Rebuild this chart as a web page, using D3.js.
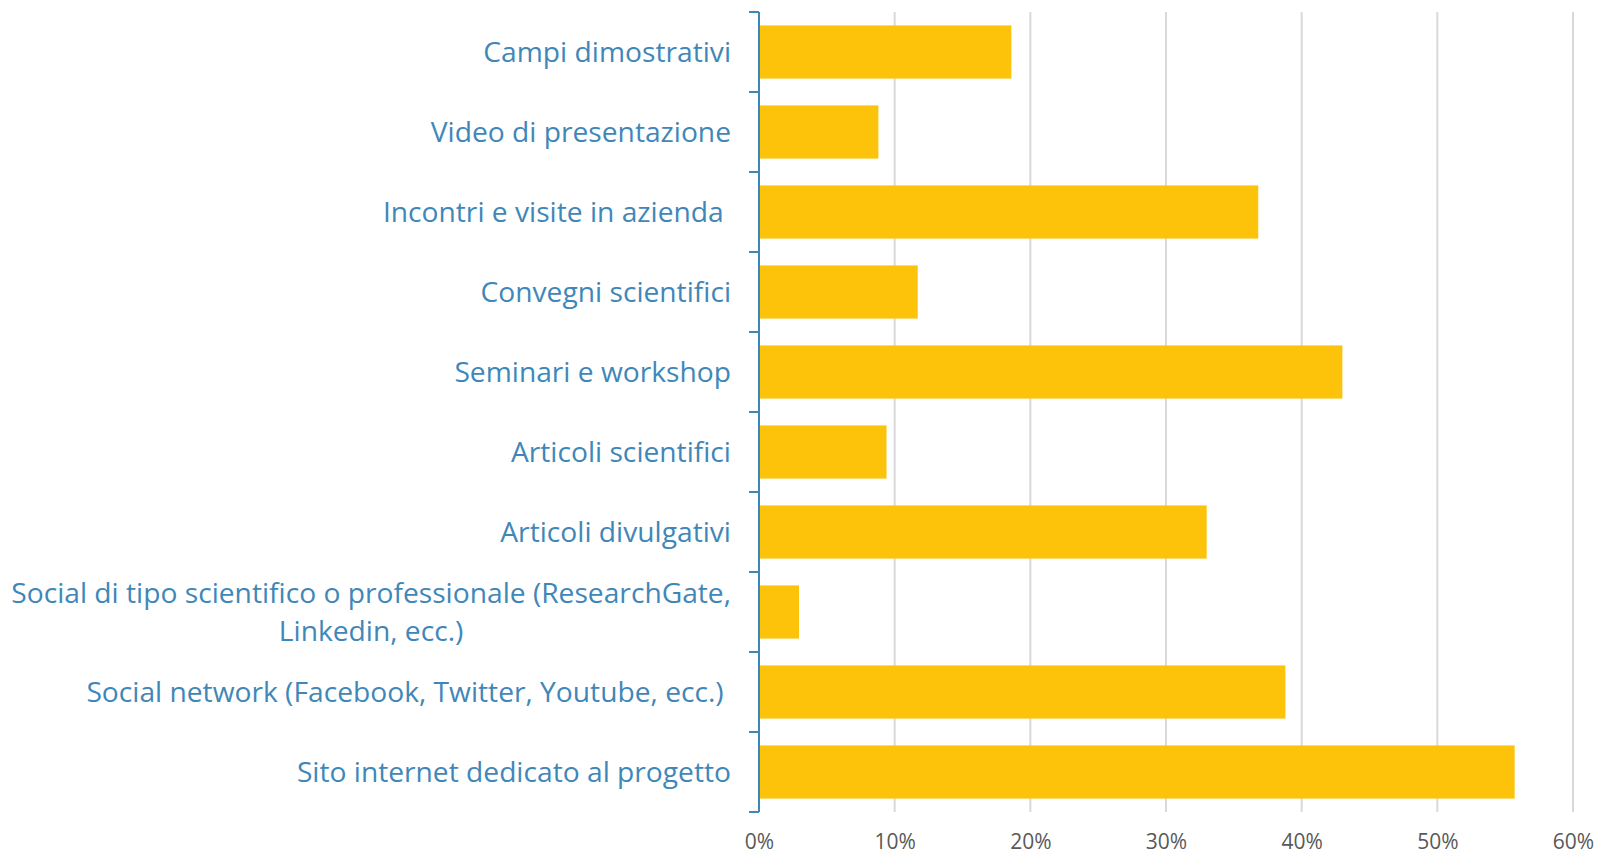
<!DOCTYPE html>
<html><head><meta charset="utf-8">
<script src="https://cdn.jsdelivr.net/npm/d3@7"></script>
<style>
html,body{margin:0;padding:0;background:#fff;}
svg{display:block;}
</style></head>
<body>
<svg id="chart" width="1598" height="855"></svg>
<script>
const categories = [
  "Campi dimostrativi",
  "Video di presentazione",
  "Incontri e visite in azienda ",
  "Convegni scientifici",
  "Seminari e workshop",
  "Articoli scientifici",
  "Articoli divulgativi",
  "Social di tipo scientifico o professionale (ResearchGate,|Linkedin, ecc.)",
  "Social network (Facebook, Twitter, Youtube, ecc.) ",
  "Sito internet dedicato al progetto"
];
const values = [18.6, 8.8, 36.8, 11.7, 43.0, 9.4, 33.0, 2.95, 38.8, 55.7];
const xTicks = [0, 10, 20, 30, 40, 50, 60];

const svg = d3.select("#chart");
const m = {left: 759, right: 25, top: 12, bottom: 43};
const W = 1598, H = 855;
const x = d3.scaleLinear().domain([0, 60]).range([m.left, W - m.right]);
const y = d3.scaleBand().domain(d3.range(categories.length)).range([m.top, H - m.bottom]).paddingInner(0.335).paddingOuter(0.1675);

// gridlines
svg.append("g").selectAll("line").data(xTicks.filter(d => d > 0)).join("line")
  .attr("x1", d => x(d)).attr("x2", d => x(d))
  .attr("y1", m.top).attr("y2", H - m.bottom)
  .attr("stroke", "#d9d9d9").attr("stroke-width", 2);

// bars
svg.append("g").selectAll("rect").data(values).join("rect")
  .attr("x", x(0)).attr("y", (d, i) => y(i))
  .attr("width", d => x(d) - x(0)).attr("height", y.bandwidth())
  .attr("fill", "#fdc30a");

// x axis labels
const xAxis = d3.axisBottom(x).tickValues(xTicks).tickFormat(d => d + "%").tickSize(0).tickPadding(0);
const gx = svg.append("g").attr("transform", `translate(0,${H - m.bottom + 22})`).call(xAxis);
gx.select(".domain").remove();
gx.selectAll("text").attr("font-family", "'Open Sans', sans-serif").attr("font-size", 21).attr("fill", "#595959").attr("dy", "0.71em");

// y axis
const boundaries = d3.range(categories.length + 1).map(i => m.top + i * y.step());
const gy = svg.append("g");
gy.append("line").attr("x1", m.left).attr("x2", m.left).attr("y1", m.top).attr("y2", H - m.bottom)
  .attr("stroke", "#3f87b8").attr("stroke-width", 2);
gy.selectAll("line.tk").data(boundaries).join("line").attr("class", "tk")
  .attr("x1", m.left - 10).attr("x2", m.left)
  .attr("y1", d => d).attr("y2", d => d)
  .attr("stroke", "#3f87b8").attr("stroke-width", 2);

const labelRight = 731;
const fs = 28.2;
categories.forEach((c, i) => {
  const lines = c.split("|");
  const cy = y(i) + y.bandwidth() / 2;
  const lh = 38;
  const t = svg.append("text")
    .attr("font-family", "'Open Sans', sans-serif").attr("font-size", fs)
    .attr("fill", "#3f87b8").style("white-space", "pre");
  if (lines.length === 1) {
    t.attr("x", labelRight).attr("y", cy).attr("dy", "0.35em").attr("text-anchor", "end").text(c);
  } else {
    const tmp = svg.append("text").attr("font-family", "'Open Sans', sans-serif").attr("font-size", fs).text(lines[0]);
    const w = tmp.node().getComputedTextLength();
    tmp.remove();
    const cx = labelRight - w / 2;
    lines.forEach((ln, k) => {
      t.append("tspan").attr("x", cx).attr("y", cy + (k - (lines.length - 1) / 2) * lh)
        .attr("dy", "0.35em").attr("text-anchor", "middle").text(ln);
    });
  }
});
</script>
</body></html>
